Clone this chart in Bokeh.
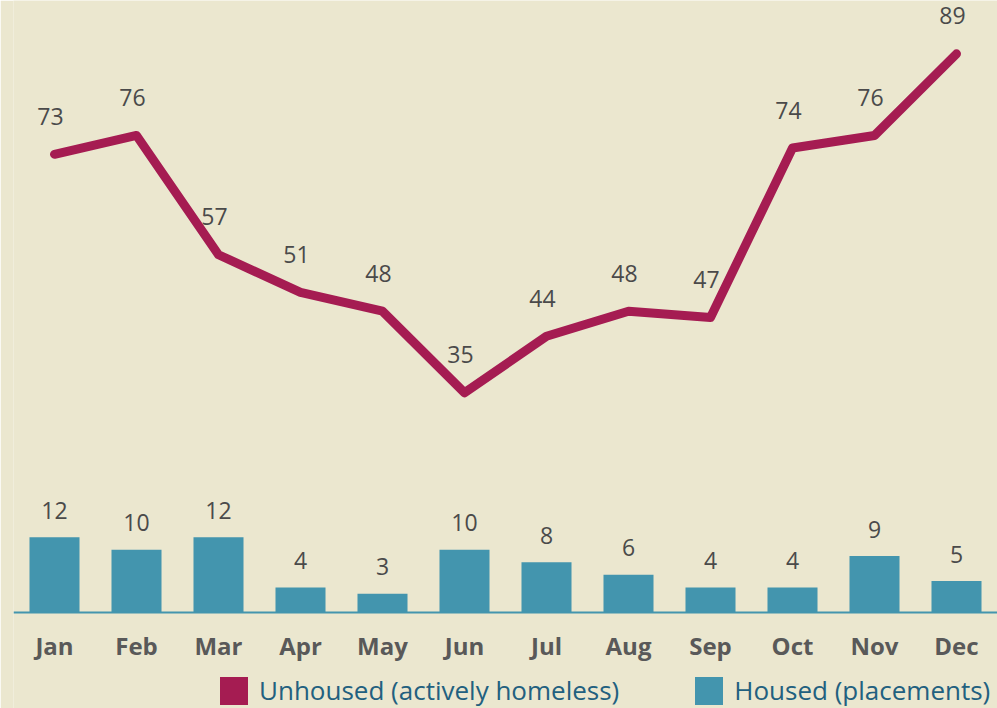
from bokeh.plotting import figure
from bokeh.models import FactorRange, Range1d, Legend, LegendItem, ColumnDataSource
from bokeh.core.properties import value
from bokeh.embed import file_html
from bokeh.resources import INLINE

months = ["Jan", "Feb", "Mar", "Apr", "May", "Jun", "Jul", "Aug", "Sep", "Oct", "Nov", "Dec"]
unhoused = [73, 76, 57, 51, 48, 35, 44, 48, 47, 74, 76, 89]
housed = [12, 10, 12, 4, 3, 10, 8, 6, 4, 4, 9, 5]

BG = "#EBE7CF"
CRIMSON = "#A51C52"
TEAL = "#4395AE"
LABEL = "#4a4a4a"
FONT = "Open Sans"

# vertical scale: value 0 sits 96 px above the bottom of a 708 px tall frame
Y_TOP = 97.5
Y_BOTTOM = -96 * Y_TOP / 612

src = ColumnDataSource(dict(
    month=months,
    unhoused=unhoused,
    housed=housed,
    ulab=[str(v) for v in unhoused],
    hlab=[str(v) for v in housed],
))

p = figure(
    x_range=FactorRange(*months),
    y_range=Range1d(Y_BOTTOM, Y_TOP),
    width=997, height=708,
    output_backend="svg", toolbar_location=None,
    y_axis_location=None,
    min_border_left=13, min_border_right=0, min_border_top=0, min_border_bottom=0,
    background_fill_color=BG, border_fill_color=BG,
)
p.outline_line_color = None
p.xgrid.visible = False
p.ygrid.visible = False

bars = p.vbar(x="month", top="housed", bottom=0, width=0.61, source=src,
              fill_color=TEAL, line_color=None)
p.text(x="month", y="housed", text="hlab", source=src, y_offset=-27,
       text_align="center", text_baseline="middle",
       text_font=value(FONT), text_font_size="23px", text_color=LABEL)

# zero-size bars at the line's points: only serve as a square legend swatch
leg_u = p.vbar(x="month", top="unhoused", bottom="unhoused", width=0, source=src,
               fill_color=CRIMSON, line_color=None)

p.line(x="month", y="unhoused", source=src, line_color=CRIMSON, line_width=9,
       line_cap="round", line_join="round")
p.text(x="month", y="unhoused", text="ulab", source=src, y_offset=-38, x_offset=-4,
       text_align="center", text_baseline="middle",
       text_font=value(FONT), text_font_size="23px", text_color=LABEL)

ax = p.xaxis[0]
ax.fixed_location = 0
ax.axis_line_color = TEAL
ax.axis_line_width = 2
ax.major_tick_line_color = None
ax.minor_tick_line_color = None
ax.major_tick_out = 0
ax.major_label_standoff = 16
ax.major_label_text_font = FONT
ax.major_label_text_font_style = "bold"
ax.major_label_text_font_size = "24px"
ax.major_label_text_color = "#595959"

legend = Legend(
    items=[LegendItem(label="Unhoused (actively homeless)", renderers=[leg_u]),
           LegendItem(label="Housed (placements)", renderers=[bars])],
    orientation="horizontal", location=(203, 0),
    glyph_width=35, glyph_height=35, label_standoff=8, spacing=72,
    padding=0, margin=0,
    label_text_font=FONT, label_text_font_size="26px", label_text_color="#22607F",
    background_fill_alpha=0, border_line_color=None,
)
p.add_layout(legend, "center")

open("out.html", "w").write(file_html(p, INLINE))
